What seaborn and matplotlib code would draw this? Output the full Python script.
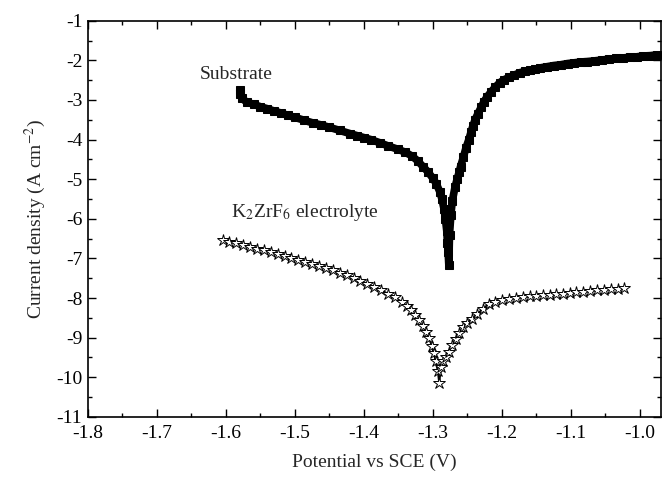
import numpy as np
import pandas as pd
import seaborn as sns
import matplotlib.pyplot as plt
from matplotlib.ticker import MultipleLocator, FormatStrFormatter

# substrate polarization curve
sub_e = [-1.580, -1.579, -1.577, -1.570, -1.560, -1.550, -1.540, -1.530, -1.520, -1.510,
         -1.500, -1.487, -1.474, -1.462, -1.450, -1.435, -1.420, -1.410, -1.400, -1.390,
         -1.377, -1.365, -1.350, -1.340, -1.330, -1.322, -1.314, -1.307, -1.300, -1.295,
         -1.290, -1.287, -1.284, -1.282, -1.280, -1.279, -1.278, -1.277,
         -1.276, -1.274, -1.272, -1.268, -1.265, -1.262, -1.260, -1.256, -1.252, -1.248,
         -1.245, -1.242, -1.239, -1.235, -1.230, -1.226, -1.222, -1.216, -1.210, -1.203,
         -1.197, -1.190, -1.182, -1.174, -1.167, -1.160, -1.152, -1.145, -1.135, -1.125,
         -1.115, -1.105, -1.095, -1.085, -1.077, -1.065, -1.055, -1.045, -1.035, -1.025,
         -1.015, -1.005, -0.995, -0.985, -0.975]
sub_i = [-2.75, -2.85, -2.96, -3.05, -3.11, -3.17, -3.22, -3.28, -3.33, -3.39,
         -3.44, -3.51, -3.58, -3.63, -3.69, -3.77, -3.85, -3.90, -3.95, -4.00,
         -4.08, -4.16, -4.25, -4.32, -4.42, -4.54, -4.69, -4.82, -4.98, -5.12,
         -5.32, -5.50, -5.75, -6.00, -6.30, -6.60, -6.85, -7.16,
         -6.40, -5.90, -5.55, -5.20, -5.00, -4.82, -4.68, -4.45, -4.20, -4.00,
         -3.82, -3.65, -3.50, -3.35, -3.18, -3.04, -2.93, -2.80, -2.68, -2.56,
         -2.49, -2.43, -2.37, -2.31, -2.28, -2.25, -2.22, -2.19, -2.16, -2.13,
         -2.11, -2.08, -2.06, -2.04, -2.03, -2.01, -1.99, -1.97, -1.95, -1.94,
         -1.92, -1.91, -1.89, -1.88, -1.86]

# K2ZrF6 electrolyte coating curve
coat_e = [-1.604, -1.595, -1.585, -1.575, -1.565, -1.555, -1.545, -1.535, -1.525, -1.515,
          -1.505, -1.495, -1.485, -1.475, -1.465, -1.455, -1.445, -1.435, -1.425, -1.415,
          -1.405, -1.395, -1.385, -1.375, -1.365, -1.355, -1.345, -1.338, -1.332, -1.326,
          -1.320, -1.315, -1.310, -1.306, -1.302, -1.299, -1.296, -1.293, -1.291,
          -1.288, -1.285, -1.281, -1.277, -1.272, -1.267, -1.262, -1.256, -1.250, -1.243,
          -1.236, -1.228, -1.219, -1.210, -1.200, -1.190, -1.180, -1.170, -1.160, -1.150,
          -1.140, -1.130, -1.122, -1.112, -1.102, -1.092, -1.082, -1.072, -1.062, -1.052,
          -1.042, -1.032, -1.023]
coat_i = [-6.53, -6.58, -6.62, -6.67, -6.71, -6.76, -6.80, -6.85, -6.90, -6.95,
          -7.00, -7.05, -7.10, -7.15, -7.19, -7.24, -7.30, -7.36, -7.42, -7.49,
          -7.56, -7.64, -7.72, -7.80, -7.89, -7.98, -8.10, -8.20, -8.30, -8.42,
          -8.55, -8.70, -8.86, -9.00, -9.20, -9.40, -9.60, -9.85, -10.15,
          -9.75, -9.60, -9.48, -9.36, -9.18, -9.03, -8.88, -8.72, -8.62, -8.52,
          -8.40, -8.28, -8.14, -8.09, -8.05, -8.02, -8.00, -7.98, -7.96, -7.95,
          -7.93, -7.92, -7.91, -7.89, -7.87, -7.85, -7.84, -7.82, -7.80, -7.79,
          -7.77, -7.76, -7.74]

sub = pd.DataFrame({"E": sub_e, "I": sub_i})
coat = pd.DataFrame({"E": coat_e, "I": coat_i})

sns.set_style("ticks")
plt.rcParams["font.family"] = ["Liberation Serif", "DejaVu Serif"]
plt.rcParams["mathtext.fontset"] = "stix"

fig = plt.figure(figsize=(6.66, 4.83), dpi=100)
ax = fig.add_axes([0.132, 0.137, 0.86, 0.82])

sns.lineplot(data=sub, x="E", y="I", sort=False, estimator=None, ax=ax,
             color="black", lw=5.5, marker="s", markersize=6,
             markeredgecolor="black", markerfacecolor="black")
sns.lineplot(data=coat, x="E", y="I", sort=False, estimator=None, ax=ax,
             color="black", lw=1.3, marker="*", markersize=9,
             markeredgecolor="black", markerfacecolor="white", markeredgewidth=0.7)

ax.set_xlim(-1.8, -0.97)
ax.set_ylim(-11, -1)
ax.xaxis.set_major_locator(MultipleLocator(0.1))
ax.xaxis.set_minor_locator(MultipleLocator(0.05))
ax.yaxis.set_major_locator(MultipleLocator(1))
ax.yaxis.set_minor_locator(MultipleLocator(0.5))
ax.xaxis.set_major_formatter(FormatStrFormatter("%.1f"))
ax.yaxis.set_major_formatter(FormatStrFormatter("%d"))
ax.tick_params(which="both", direction="in", top=True, right=True, labelsize=14,
               width=1, colors="black")
ax.tick_params(which="major", length=6)
ax.tick_params(which="minor", length=3)
ax.tick_params(axis="x", pad=6)
ax.tick_params(axis="y", pad=4)
for s in ax.spines.values():
    s.set_linewidth(1.2)
    s.set_color("black")

ax.set_xlabel("Potential vs SCE (V)", fontsize=14, labelpad=8)
ax.set_ylabel(r"Current density (A cm$^{-2}$)", fontsize=14, labelpad=6)

ax.text(-1.638, -2.36, "Substrate", fontsize=14, va="center", ha="left")
ax.text(-1.592, -5.85, r"K$_2$ZrF$_6$ electrolyte", fontsize=14, va="center", ha="left")

fig.savefig("out.png", dpi=100)
